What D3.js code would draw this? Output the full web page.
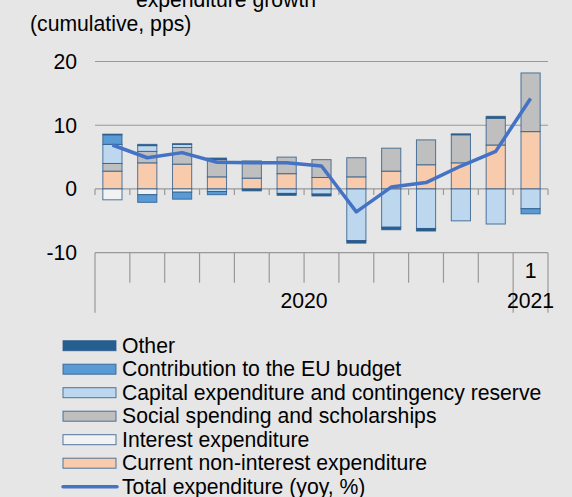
<!DOCTYPE html>
<html>
<head>
<meta charset="utf-8">
<script src="https://cdn.jsdelivr.net/npm/d3@7"></script>
<style>
  html, body { margin: 0; padding: 0; background: #e6e6e6; }
  svg { display: block; font-family: Arial, "Liberation Sans", sans-serif; }
</style>
</head>
<body>
<div id="chart"></div>
<script>
// months (2020 Jan .. 2021 Jan)
const monthLabels = ["", "", "", "", "", "", "", "", "", "", "", "", "1"];
const yearLabels = ["2020", "2021"];
const yearSpans = [12, 1];

const seriesNames = [
  "Current non-interest expenditure",
  "Interest expenditure",
  "Social spending and scholarships",
  "Capital expenditure and contingency reserve",
  "Contribution to the EU budget",
  "Other"
];
const current  = [2.8, 4.1, 3.9, 1.9, 1.7, 2.4, 1.8, 1.9, 2.8, 3.8, 4.1, 6.9, 9.0];
const interest = [-1.7, -0.9, -0.5, 0, 0, 0, 0, 0, 0, 0, 0, 0, 0];
const social   = [1.2, 1.8, 2.6, 2.7, 2.7, 2.6, 2.8, 3.0, 3.6, 3.9, 4.4, 4.2, 9.2];
const capital  = [3.0, 0.9, 0.5, -0.4, 0, -0.7, -0.8, -8.1, -6.0, -6.2, -5.0, -5.5, -3.1];
const euBudget = [1.5, -1.2, -1.1, -0.5, 0, 0, 0, 0, 0, 0, 0, 0, -0.8];
const other    = [0.1, 0.2, 0.1, 0.25, -0.3, -0.3, -0.3, -0.4, -0.4, -0.4, 0.15, 0.3, 0];
const total    = [6.9, 4.9, 5.7, 4.2, 4.1, 4.1, 3.6, -3.6, 0.3, 1.0, 3.6, 5.9, 14.2];
const lineName = "Total expenditure (yoy, %)";
const yTicks = [20, 10, 0, -10];

const colors = ["#f8cbad", "#f2f2f2", "#bfbfbf", "#bdd7ee", "#5b9bd5", "#255e91"];
const lineColor = "#4472c4";
const fs = 21.2;

function drawChart(container) {
  const sel = d3.select(container);
  sel.selectAll("*").remove();
  const W = 572, H = 497;

  const svg = sel.append("svg").attr("width", W).attr("height", H);
  svg.append("rect").attr("width", W).attr("height", H).attr("fill", "#e6e6e6");

  const rows = monthLabels.map((m, i) => ({
    i, current: current[i], interest: interest[i], social: social[i],
    capital: capital[i], eu: euBudget[i], other: other[i]
  }));
  const keys = ["current", "interest", "social", "capital", "eu", "other"];

  const x = d3.scaleBand().domain(d3.range(monthLabels.length)).range([95, 548]).paddingInner(0.45).paddingOuter(0.225);
  const y = d3.scaleLinear().domain([-10, 20]).range([252.7, 61.5]);
  const step = x.step();
  const x0 = 95;

  // title (cut at top, as in the source) + subtitle
  svg.append("text").attr("x", 226).attr("y", 7).attr("text-anchor", "middle")
    .attr("font-size", fs).attr("fill", "#000").text("expenditure growth");
  svg.append("text").attr("x", 30).attr("y", 31)
    .attr("font-size", fs).attr("fill", "#000").text("(cumulative, pps)");

  // gridlines
  svg.append("g").selectAll("line").data([10, 20]).join("line")
    .attr("x1", 95).attr("x2", 548)
    .attr("y1", d => y(d)).attr("y2", d => y(d))
    .attr("stroke", "#999").attr("stroke-width", 1.2);

  // y tick labels
  svg.append("g").selectAll("text").data(yTicks).join("text")
    .attr("x", 77).attr("y", d => y(d) + 7.5)
    .attr("text-anchor", "end").attr("font-size", fs).attr("fill", "#000")
    .text(d => d);

  // zero axis with small ticks
  const bounds = d3.range(monthLabels.length + 1).map(k => x0 + k * step);
  svg.append("line").attr("x1", 95).attr("x2", 548).attr("y1", y(0)).attr("y2", y(0))
    .attr("stroke", "#999").attr("stroke-width", 1.2);
  svg.append("g").selectAll("line").data(bounds).join("line")
    .attr("x1", d => d).attr("x2", d => d)
    .attr("y1", y(0)).attr("y2", y(0) + 6)
    .attr("stroke", "#999").attr("stroke-width", 1.2);

  // stacked bars
  const stack = d3.stack().keys(keys).offset(d3.stackOffsetDiverging)(rows);
  svg.append("g").selectAll("g").data(stack).join("g")
    .attr("fill", (d, k) => colors[k])
    .selectAll("rect").data(d => d.filter(p => p[1] !== p[0])).join("rect")
      .attr("x", d => x(d.data.i))
      .attr("width", x.bandwidth())
      .attr("y", d => y(Math.max(d[0], d[1])))
      .attr("height", d => Math.abs(y(d[0]) - y(d[1])))
      .attr("stroke", "#2a5a8a").attr("stroke-opacity", 0.8).attr("stroke-width", 1);

  // total line
  const line = d3.line().x((d, i) => x(i) + x.bandwidth() / 2).y(d => y(d));
  svg.append("path").datum(total).attr("d", line)
    .attr("fill", "none").attr("stroke", lineColor).attr("stroke-width", 3.5)
    .attr("stroke-linejoin", "round");

  // category axis at bottom
  const axY = y(-10);
  svg.append("line").attr("x1", 95).attr("x2", 548).attr("y1", axY).attr("y2", axY)
    .attr("stroke", "#999").attr("stroke-width", 1.2);
  const groupBounds = [0];
  yearSpans.forEach(s => groupBounds.push(groupBounds[groupBounds.length - 1] + s));
  svg.append("g").selectAll("line").data(bounds).join("line")
    .attr("x1", d => d).attr("x2", d => d)
    .attr("y1", axY)
    .attr("y2", (d, k) => groupBounds.includes(k) ? axY + 60 : axY + 30)
    .attr("stroke", "#999").attr("stroke-width", 1.2);
  svg.append("g").selectAll("text").data(monthLabels).join("text")
    .attr("x", (d, i) => x(i) + x.bandwidth() / 2).attr("y", 278)
    .attr("text-anchor", "middle").attr("font-size", fs).text(d => d);
  svg.append("g").selectAll("text").data(yearLabels).join("text")
    .attr("x", (d, k) => x0 + (groupBounds[k] + groupBounds[k + 1]) / 2 * step)
    .attr("y", 308).attr("text-anchor", "middle").attr("font-size", fs).text(d => d);

  // legend
  const legendItems = seriesNames.map((n, k) => ({ name: n, color: colors[k] })).reverse();
  const lg = svg.append("g");
  legendItems.forEach((d, k) => {
    const cy = 345.7 + k * 23.5;
    lg.append("rect").attr("x", 63).attr("y", cy - 5).attr("width", 53).attr("height", 10)
      .attr("fill", d.color).attr("stroke", "#2a5a8a").attr("stroke-opacity", 0.8);
    lg.append("text").attr("x", 122).attr("y", cy + 7).attr("font-size", fs).text(d.name);
  });
  const ly = 345.7 + 6 * 23.5;
  lg.append("line").attr("x1", 63).attr("x2", 117).attr("y1", ly).attr("y2", ly)
    .attr("stroke", lineColor).attr("stroke-width", 3.5).attr("stroke-linecap", "round");
  lg.append("text").attr("x", 122).attr("y", ly + 7).attr("font-size", fs).text(lineName);
}

drawChart(document.getElementById("chart"));
</script>
</body>
</html>
